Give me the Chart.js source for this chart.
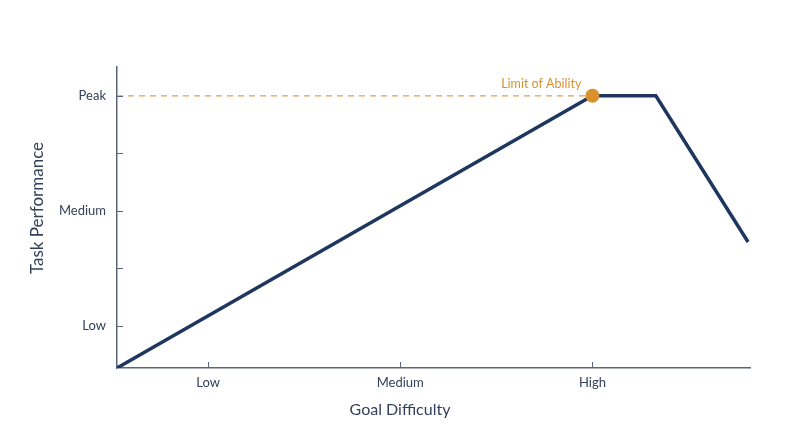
<!DOCTYPE html>
<html>
<head>
<meta charset="utf-8">
<script src="https://cdn.jsdelivr.net/npm/chart.js@4.4.1/dist/chart.umd.min.js"></script>
<style>
  html, body { margin: 0; padding: 0; background: #fff; }
  #wrap { width: 800px; height: 447px; }
</style>
</head>
<body>
<div id="wrap"><canvas id="goalChart"></canvas></div>
<script>
// values (x: goal difficulty, y: task performance)
const xTickValues = [1, 2, 3];
const xTickLabels = ["Low", "Medium", "High"];
const yTickValues = [1, 1.5, 2, 2.5, 3];
const yTickLabels = ["Low", "", "Medium", "", "Peak"];

const perfX = [0.526, 3, 3.33, 3.81];
const perfY = [0.635, 3, 3, 1.73];

const limitX = [0.526, 3];
const limitY = [3, 3];
const limitPoint = { x: 3, y: 3, label: "Limit of Ability" };

const xTitle = "Goal Difficulty";
const yTitle = "Task Performance";

const axisColor = "#5b6478";
const textColor = "#34415c";
const navy = "#1f365f";
const orange = "#d9912d";
const fontFamily = "Lato, 'Open Sans', sans-serif";

// inward tick marks, axis titles and the limit label
const decorations = {
  id: "decorations",
  afterDraw(chart) {
    const ctx = chart.ctx;
    const xs = chart.scales.x, ys = chart.scales.y;
    ctx.save();
    ctx.strokeStyle = axisColor;
    ctx.lineWidth = 1;
    ctx.beginPath();
    xTickValues.forEach(v => {
      const px = Math.round(xs.getPixelForValue(v)) + 0.5;
      ctx.moveTo(px, ys.bottom);
      ctx.lineTo(px, ys.bottom - 6);
    });
    yTickValues.forEach(v => {
      const py = Math.round(ys.getPixelForValue(v)) + 0.5;
      ctx.moveTo(xs.left, py);
      ctx.lineTo(xs.left + 6, py);
    });
    ctx.stroke();

    ctx.fillStyle = textColor;
    ctx.textAlign = "center";
    ctx.textBaseline = "middle";
    ctx.font = "16px " + fontFamily;
    ctx.fillText(xTitle, chart.width / 2, 410);
    ctx.save();
    ctx.translate(38, 208);
    ctx.rotate(-Math.PI / 2);
    ctx.font = "17px " + fontFamily;
    ctx.fillText(yTitle, 0, 0);
    ctx.restore();

    const px = xs.getPixelForValue(limitPoint.x);
    const py = ys.getPixelForValue(limitPoint.y);
    ctx.fillStyle = orange;
    ctx.font = "12.5px " + fontFamily;
    ctx.textAlign = "right";
    ctx.fillText(limitPoint.label, px - 11, py - 12);
    ctx.restore();
  }
};

const ctx = document.getElementById("goalChart").getContext("2d");
new Chart(ctx, {
  type: "line",
  data: {
    datasets: [
      {
        label: "Limit",
        data: limitX.map((x, i) => ({ x: x, y: limitY[i] })),
        borderColor: "#dba254",
        borderWidth: 1.2,
        borderDash: [6, 5],
        pointRadius: 0,
        order: 3
      },
      {
        label: "Performance",
        data: perfX.map((x, i) => ({ x: x, y: perfY[i] })),
        borderColor: navy,
        borderWidth: 3.5,
        borderJoinStyle: "miter",
        pointRadius: 0,
        order: 2
      },
      {
        label: "Limit of Ability",
        data: [{ x: limitPoint.x, y: limitPoint.y }],
        pointRadius: 7,
        pointBackgroundColor: orange,
        pointBorderWidth: 0,
        showLine: false,
        order: 1
      }
    ]
  },
  options: {
    responsive: true,
    maintainAspectRatio: false,
    animation: false,
    layout: { padding: { top: 67, right: 50, left: 0, bottom: 0 } },
    plugins: {
      legend: { display: false },
      tooltip: { enabled: false }
    },
    scales: {
      x: {
        type: "linear",
        min: 0.526,
        max: 3.82,
        afterBuildTicks: scale => { scale.ticks = xTickValues.map(v => ({ value: v })); },
        afterFit: scale => { scale.height = 79; },
        grid: { display: false, drawTicks: false },
        border: { display: true, color: axisColor, width: 1.5 },
        ticks: {
          color: textColor,
          padding: 7,
          font: { family: fontFamily, size: 13 },
          callback: v => xTickLabels[xTickValues.indexOf(v)] ?? ""
        }
      },
      y: {
        type: "linear",
        min: 0.635,
        max: 3.25,
        afterBuildTicks: scale => { scale.ticks = yTickValues.map(v => ({ value: v })); },
        afterFit: scale => { scale.width = 117; },
        grid: { display: false, drawTicks: false },
        border: { display: true, color: axisColor, width: 1.5 },
        ticks: {
          color: textColor,
          padding: 11,
          font: { family: fontFamily, size: 13 },
          callback: v => yTickLabels[yTickValues.indexOf(v)] ?? ""
        }
      }
    }
  },
  plugins: [decorations]
});
</script>
</body>
</html>
